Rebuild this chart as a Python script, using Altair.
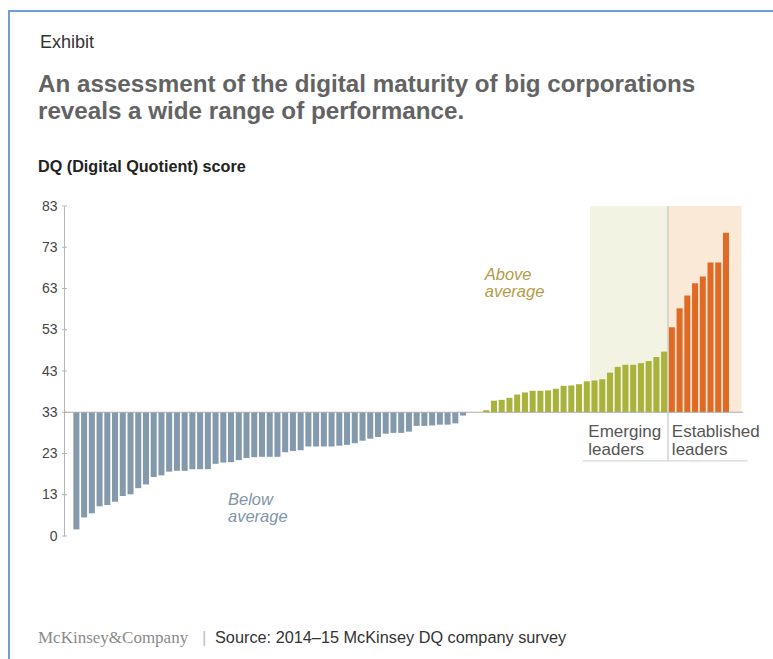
import altair as alt
import pandas as pd

# ---- data (DQ scores, sorted) ----
below_avg = [4.6, 7.5, 8.5, 10.2, 10.5, 11.3, 12.7, 13.1, 14.6, 15.5,
             17.3, 17.7, 18.6, 18.8, 18.8, 19.2, 19.2, 19.2, 20.5, 20.8,
             20.9, 21.4, 21.9, 22.1, 22.2, 22.2, 22.2, 23.3, 23.6, 23.8,
             24.7, 24.7, 24.7, 24.7, 24.9, 25.1, 25.5, 26.1, 26.6, 27.0,
             27.8, 28.0, 28.0, 28.3, 29.7, 29.7, 29.8, 30.0, 30.0, 30.3, 32.2]
at_avg = [33.0, 33.0]
above_avg = [33.5, 35.8, 36.0, 36.5, 37.3, 37.8, 38.2, 38.2, 38.3, 38.7,
             39.4, 39.5, 39.8, 40.5, 40.7, 41.0, 42.6, 44.0, 44.5, 44.5,
             44.9, 45.4, 46.4, 47.7]
established = [53.6, 58.2, 61.3, 64.3, 65.9, 69.3, 69.3, 76.5]

group_names = ["Below average", "Average", "Above average", "Established leaders"]
group_colors = ["#8499ab", "#a9b23a", "#a9b23a", "#e06a24"]

y_ticks = [3, 13, 23, 33, 43, 53, 63, 73, 83]
avg_score = 33
x_domain = [-0.6, 87.2]
y_domain = [3, 83]

band_names = ["Emerging leaders", "Established leaders"]
band_start = [67.4, 77.5]
band_end = [77.5, 87.0]
band_colors = ["#f3f3e4", "#fbe9d7"]

scores = below_avg + at_avg + above_avg + established
groups = (["Below average"] * len(below_avg) + ["Average"] * len(at_avg)
          + ["Above average"] * len(above_avg)
          + ["Established leaders"] * len(established))
df = pd.DataFrame({"rank": list(range(1, len(scores) + 1)),
                   "score": scores, "group": groups})

FONT = "Liberation Sans"
W, H = 679, 330
xs = alt.Scale(domain=x_domain, nice=False, zero=False)
ys = alt.Scale(domain=y_domain, nice=False, zero=False)

y_axis = alt.Axis(values=y_ticks, labelExpr="datum.value == 3 ? '0' : datum.label",
                  ticks=False, grid=False, domainColor="#b5b5b5", title=None,
                  labelFont=FONT, labelFontSize=14, labelColor="#444444",
                  labelPadding=7)


def Y(field):
    return alt.Y(field, scale=ys, axis=y_axis, title=None)


def X(field):
    return alt.X(field, scale=xs, axis=None, title=None)


# shaded leader bands
bands_df = pd.DataFrame({"band": band_names, "x0": band_start, "x1": band_end,
                         "y0": [avg_score] * 2, "y1": [y_domain[1]] * 2})
bands = alt.Chart(bands_df).mark_rect().encode(
    x=X("x0:Q"), x2="x1:Q",
    y=Y("y0:Q"), y2="y1:Q",
    color=alt.Color("band:N", scale=alt.Scale(domain=band_names, range=band_colors),
                    legend=None),
)

bars = alt.Chart(df).transform_calculate(
    x0="datum.rank - 0.39", x1="datum.rank + 0.39", base=str(avg_score)
).mark_rect().encode(
    x=X("x0:Q"), x2="x1:Q",
    y=Y("score:Q"), y2="base:Q",
    fill=alt.Fill("group:N", scale=alt.Scale(domain=group_names, range=group_colors),
                  legend=None),
)

tick_df = pd.DataFrame({"v": y_ticks})
ticks = alt.Chart(tick_df).mark_rule(color="#b5b5b5").encode(
    y=Y("v:Q"), x=alt.value(-2), x2=alt.value(3))

base_rule = alt.Chart(pd.DataFrame({"v": [avg_score]})).mark_rule(color="#aaaaaa").encode(
    y=Y("v:Q"), x=alt.value(0), x2=alt.value(W))

divider = alt.Chart(pd.DataFrame({"x": [77.5], "y0": [83], "y1": [21.2]})).mark_rule(
    color="#bdbdbd").encode(x=X("x:Q"), y=Y("y0:Q"), y2="y1:Q")

underline = alt.Chart(pd.DataFrame({"x0": [66.5], "x1": [87.8], "y": [21.2]})).mark_rule(
    color="#cccccc").encode(x=X("x0:Q"), x2="x1:Q", y=Y("y:Q"))


def two_line(lines, x, y, dy, **kw):
    d = pd.DataFrame({"t": [lines[0]], "x": [x], "y": [y]})
    d2 = pd.DataFrame({"t": [lines[1]], "x": [x], "y": [y]})
    a = alt.Chart(d).mark_text(align="left", baseline="alphabetic", font=FONT, **kw).encode(
        x=X("x:Q"), y=Y("y:Q"), text="t:N")
    b = alt.Chart(d2).mark_text(align="left", baseline="alphabetic", font=FONT, dy=dy, **kw).encode(
        x=X("x:Q"), y=Y("y:Q"), text="t:N")
    return [a, b]


emerging_lbl = two_line(["Emerging", "leaders"], 67.2, 27.1, 18, fontSize=17, color="#555555")
established_lbl = two_line(["Established", "leaders"], 78.0, 27.1, 18, fontSize=17, color="#555555")
above_lbl = two_line(["Above", "average"], 53.8, 65.1, 17.5, fontSize=16.5, fontStyle="italic",
                     color="#b39c47")
below_lbl = two_line(["Below", "average"], 20.6, 10.6, 17.5, fontSize=16.5, fontStyle="italic",
                     color="#7f95a8")

one = pd.DataFrame({"k": [0]})


def txt(s, x, y, **kw):
    return alt.Chart(pd.DataFrame({"t": [s]})).mark_text(
        align="left", baseline="alphabetic", x=x, y=y, **kw
    ).encode(text="t:N")


exhibit = txt("Exhibit", -24, -158, font=FONT, fontSize=18, color="#333333")
title1 = txt("An assessment of the digital maturity of big corporations",
             -26, -114, font=FONT, fontSize=24.2, fontWeight="bold", color="#636363")
title2 = txt("reveals a wide range of performance.",
             -26, -87, font=FONT, fontSize=24.2, fontWeight="bold", color="#636363")
ytitle = txt("DQ (Digital Quotient) score", -26, -34, font=FONT, fontSize=16.2,
             fontWeight="bold", color="#222222")
brand = txt("McKinsey&Company", -26, 437, font="Liberation Serif", fontSize=17, color="#8a8a8a")
sep = txt("|", 138, 437, font=FONT, fontSize=17, color="#c0c0c0")
source = txt("Source: 2014–15 McKinsey DQ company survey", 151, 437, font=FONT,
             fontSize=16.3, color="#333333")

frame_left = alt.Chart(one).mark_rule(color="#6a9fd8", strokeWidth=2).encode(
    x=alt.value(-55), y=alt.value(-195), y2=alt.value(460))
frame_top = alt.Chart(one).mark_rule(color="#6a9fd8", strokeWidth=2).encode(
    x=alt.value(-56), x2=alt.value(720), y=alt.value(-195))

chart = alt.layer(
    bands, bars, ticks, base_rule, divider, underline,
    *emerging_lbl, *established_lbl, *above_lbl, *below_lbl,
    exhibit, title1, title2, ytitle, brand, sep, source, frame_left, frame_top
).resolve_scale(color="independent", fill="independent").properties(
    width=W, height=H, autosize="none",
    padding={"left": 64, "top": 206, "right": 30, "bottom": 123},
    background="white",
).configure_view(stroke=None)

chart.save("out.html", embed_options={"renderer": "svg", "actions": False})
